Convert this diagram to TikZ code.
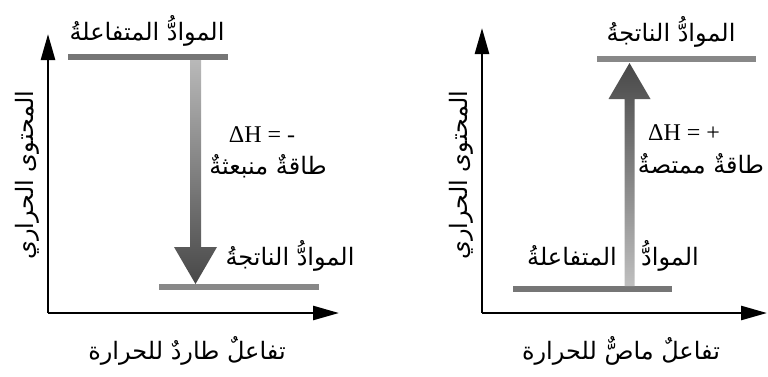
\documentclass[tikz,border=0pt]{standalone}
\usepackage{fontspec}
\setmainfont{Liberation Serif}
\newfontfamily\arabicfont[Script=Arabic]{DejaVu Sans}
\TeXXeTstate=1
\usetikzlibrary{arrows.meta}
\newcommand\artext[1]{{\arabicfont\beginR #1\endR}}
\definecolor{barA}{HTML}{767676}
\definecolor{barB}{HTML}{888888}
\begin{document}
\begin{tikzpicture}[x=1pt,y=-1pt,
  axisline/.style={line width=2.6pt,-{Triangle[length=26pt,width=14pt]}},
  levelbar/.style={line width=6pt},
  lbl/.style={inner sep=0pt,font=\fontsize{24}{26}\selectfont},
  dh/.style={inner sep=0pt,font=\fontsize{24}{26}\selectfont}]
\useasboundingbox (0,0) rectangle (768,376);

% ---------- exothermic reaction ----------
\coordinate (o1) at (48,313);
\coordinate (y1) at (48,34);
\coordinate (x1) at (339,313);
\draw[axisline] (o1) -- (y1);
\draw[axisline] (o1) -- (x1);

\coordinate (r1a) at (68,57);  \coordinate (r1b) at (228,57);
\coordinate (p1a) at (159,287); \coordinate (p1b) at (319,287);
\draw[levelbar,barA] (r1a) -- (r1b);
\draw[levelbar,barB] (p1a) -- (p1b);

% shaded arrow from reactants down to products
\coordinate (s1) at (195.5,60);
\coordinate (t1) at (195.5,284);
\shade[top color=gray!55,bottom color=black!72]
  ([xshift=-5.5pt]s1) -- ([xshift=5.5pt]s1) -- ([xshift=5.5pt,yshift=37pt]t1)
  -- ([xshift=21.5pt,yshift=37pt]t1) -- (t1) -- ([xshift=-21.5pt,yshift=37pt]t1)
  -- ([xshift=-5.5pt,yshift=37pt]t1) -- cycle;

\node[lbl] (reac1) at (147,31) {\artext{الموادُّ المتفاعلةُ}};
\node[dh] (dh1) at (262,135) {ΔH = -};
\node[lbl] (en1) at (268,166) {\artext{طاقةٌ منبعثةٌ}};
\node[lbl] (prod1) at (290,256) {\artext{الموادُّ الناتجةُ}};
\node[lbl,rotate=90] (ylab1) at (27,175) {\artext{المحتوى الحراري}};
\node[lbl] (xlab1) at (187,351) {\artext{تفاعلٌ طاردٌ للحرارة}};

% ---------- endothermic reaction ----------
\coordinate (o2) at (482,313);
\coordinate (y2) at (482,28);
\coordinate (x2) at (767,313);
\draw[axisline] (o2) -- (y2);
\draw[axisline] (o2) -- (x2);

\coordinate (p2a) at (597,59); \coordinate (p2b) at (756,59);
\coordinate (r2a) at (513,289); \coordinate (r2b) at (672,289);
\draw[levelbar,barB] (p2a) -- (p2b);
\draw[levelbar,barA] (r2a) -- (r2b);

% shaded arrow from reactants up to products
\coordinate (s2) at (629.5,286);
\coordinate (t2) at (629.5,63);
\shade[bottom color=gray!50,top color=black!72]
  ([xshift=-5pt]s2) -- ([xshift=5pt]s2) -- ([xshift=5pt,yshift=-36pt]t2)
  -- ([xshift=21pt,yshift=-36pt]t2) -- (t2) -- ([xshift=-21pt,yshift=-36pt]t2)
  -- ([xshift=-5pt,yshift=-36pt]t2) -- cycle;

\node[lbl] (prod2) at (671,32) {\artext{الموادُّ الناتجةُ}};
\node[dh] (dh2) at (684,133) {ΔH = +};
\node[lbl] (en2) at (701,164) {\artext{طاقةٌ ممتصةٌ}};
\node[lbl] (reac2a) at (670,256) {\artext{الموادُّ}};
\node[lbl] (reac2b) at (572,256) {\artext{المتفاعلةُ}};
\node[lbl,rotate=90] (ylab2) at (461,175) {\artext{المحتوى الحراري}};
\node[lbl] (xlab2) at (621,351) {\artext{تفاعلٌ ماصٌّ للحرارة}};
\end{tikzpicture}
\end{document}
